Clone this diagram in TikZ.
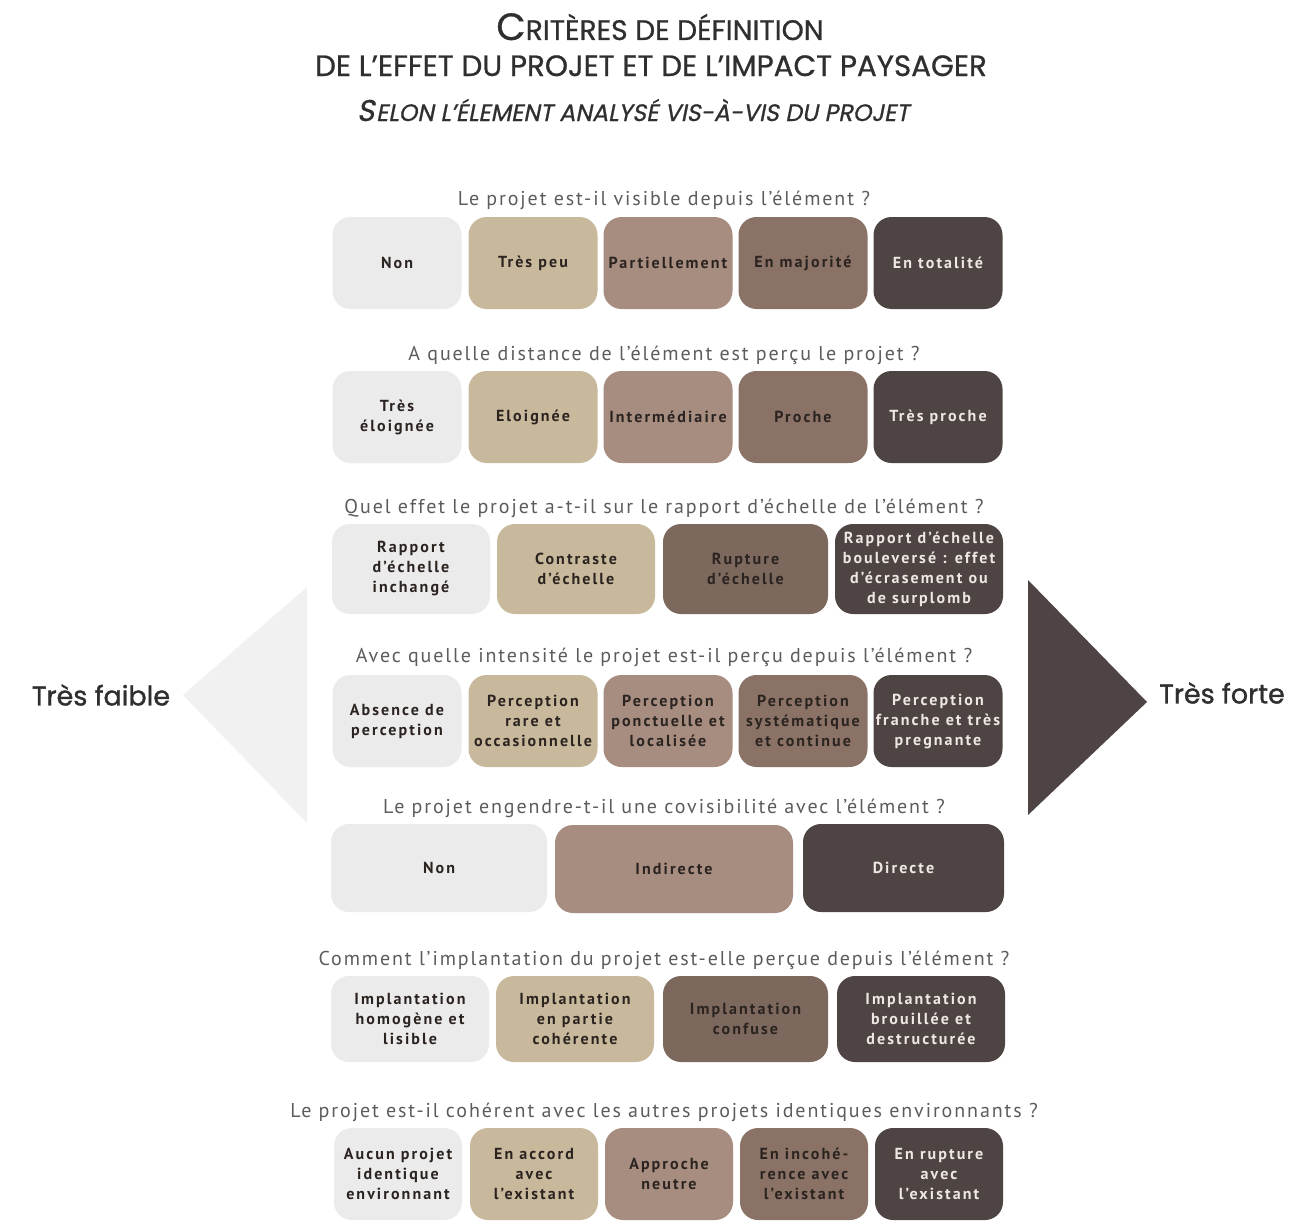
\documentclass[tikz,border=0pt]{standalone}
\usepackage{fontspec}
\setmainfont{PT Sans}
\newfontfamily\titlefont[FakeBold=0.8]{Poppins}
\newfontfamily\titleslant[FakeSlant=0.2,FakeBold=0.8]{Poppins}
\newfontfamily\sidefont[FakeBold=1.2]{Poppins}
\newfontfamily\askfont[LetterSpace=9.5]{PT Sans}
\newfontfamily\boxfont[LetterSpace=13]{PT Sans}
\usetikzlibrary{positioning}
\definecolor{tonA}{HTML}{EBEBEB}
\definecolor{tonB}{HTML}{C9B99C}
\definecolor{tonC}{HTML}{A68D80}
\definecolor{tonD}{HTML}{8A7366}
\definecolor{tonDd}{HTML}{7C685D}
\definecolor{tonE}{HTML}{4E4443}
\definecolor{ink}{HTML}{2B2320}
\definecolor{inkLight}{HTML}{EEE8E4}
\definecolor{askGray}{HTML}{5C5C5C}
\definecolor{titleInk}{HTML}{2F2F2F}
\definecolor{faibleTon}{HTML}{F1F1F1}
\tikzset{
    crit/.style={rounded corners=9pt, minimum height=46pt, inner sep=1pt, align=center,
        font=\boxfont\bfseries\fontsize{8}{10}\selectfont, text=ink},
    critDark/.style={crit, text=inkLight},
    cinq/.style={minimum width=64.5pt},
    ask/.style={font=\askfont\fontsize{10}{12}\selectfont, text=askGray},
    side/.style={font=\sidefont\fontsize{13.5}{16}\selectfont, text=titleInk}
}

\begin{document}
\begin{tikzpicture}[x=0.5pt,y=-0.5pt]
	\fill[white] (0,0) rectangle (1316,1220);
	\useasboundingbox (0,0) rectangle (1316,1220);
	% titre
	\node[anchor=base, text=titleInk] (titre1) at (660,40) {\titlefont{\fontsize{19}{20}\selectfont C}{\fontsize{14.1}{16}\selectfont RITÈRES DE DÉFINITION}};
	\node[anchor=base, text=titleInk] (titre2) at (651,76) {\titlefont\fontsize{14.7}{16}\selectfont DE L’EFFET DU PROJET ET DE L’IMPACT PAYSAGER};
	\node[anchor=base, text=titleInk] (titre3) at (633,121) {\titleslant{\fontsize{15}{16}\selectfont S}\kern0.8pt{\fontsize{11.9}{13}\selectfont ELON L’ÉLEMENT ANALYSÉ VIS-À-VIS DU PROJET}};
	% fleches
	\fill[faibleTon] (307,587) -- (183,695) -- (307,823) -- cycle;
	\fill[tonE] (1028,580) -- (1147,702) -- (1028,815) -- cycle;
	\node[side] (faible) at (101,695) {Très faible};
	\node[side] (forte) at (1222,693) {Très forte};
	% visible
	\node[ask] (q1) at (664,200) {Le projet est-il visible depuis l’élément ?};
	\node[crit, cinq, fill=tonA] (r1a) at (397,263) {Non};
	\node[crit, cinq, fill=tonB] (r1b) at (533,263) {Très peu};
	\node[crit, cinq, fill=tonC] (r1c) at (668,263) {Partiellement};
	\node[crit, cinq, fill=tonD] (r1d) at (803,263) {En majorité};
	\node[critDark, cinq, fill=tonE] (r1e) at (938,263) {En totalité};
	% distance
	\node[ask] (q2) at (664,355) {A quelle distance de l’élément est perçu le projet ?};
	\node[crit, cinq, fill=tonA] (r2a) at (397,417) {Très\\éloignée};
	\node[crit, cinq, fill=tonB] (r2b) at (533,417) {Eloignée};
	\node[crit, cinq, fill=tonC] (r2c) at (668,417) {Intermédiaire};
	\node[crit, cinq, fill=tonD] (r2d) at (803,417) {Proche};
	\node[critDark, cinq, fill=tonE] (r2e) at (938,417) {Très proche};
	% echelle
	\node[ask] (q3) at (664,508) {Quel effet le projet a-t-il sur le rapport d’échelle de l’élément ?};
	\node[crit, minimum width=79pt, minimum height=45pt, fill=tonA] (r3a) at (411,569) {Rapport\\d’échelle\\inchangé};
	\node[crit, minimum width=79pt, minimum height=45pt, fill=tonB] (r3b) at (576,569) {Contraste\\d’échelle};
	\node[crit, minimum width=82.5pt, minimum height=45pt, fill=tonDd] (r3c) at (745.5,569) {Rupture\\d’échelle};
	\node[critDark, minimum width=84pt, minimum height=45pt, fill=tonE] (r3d) at (919,569) {Rapport d’échelle\\bouleversé : effet\\d’écrasement ou\\de surplomb};
	% intensite
	\node[ask] (q4) at (664,657) {Avec quelle intensité le projet est-il perçu depuis l’élément ?};
	\node[crit, cinq, fill=tonA] (r4a) at (397,721) {Absence de\\perception};
	\node[crit, cinq, fill=tonB] (r4b) at (533,721) {Perception\\rare et\\occasionnelle};
	\node[crit, cinq, fill=tonC] (r4c) at (668,721) {Perception\\ponctuelle et\\localisée};
	\node[crit, cinq, fill=tonD] (r4d) at (803,721) {Perception\\systématique\\et continue};
	\node[critDark, cinq, fill=tonE] (r4e) at (938,721) {Perception\\franche et très\\pregnante};
	% covisibilite
	\node[ask] (q5) at (664,808) {Le projet engendre-t-il une covisibilité avec l’élément ?};
	\node[crit, minimum width=108pt, minimum height=44pt, fill=tonA] (r5a) at (439,868) {Non};
	\node[crit, minimum width=119pt, minimum height=44pt, fill=tonC] (r5b) at (674,869) {Indirecte};
	\node[critDark, minimum width=100.5pt, minimum height=44pt, fill=tonE] (r5c) at (903.5,868) {Directe};
	% implantation
	\node[ask] (q6) at (664,960) {Comment l’implantation du projet est-elle perçue depuis l’élément ?};
	\node[crit, minimum width=79pt, minimum height=43pt, fill=tonA] (r6a) at (410,1019) {Implantation\\homogène et\\lisible};
	\node[crit, minimum width=79pt, minimum height=43pt, fill=tonB] (r6b) at (575,1019) {Implantation\\en partie\\cohérente};
	\node[crit, minimum width=82.5pt, minimum height=43pt, fill=tonDd] (r6c) at (745.5,1019) {Implantation\\confuse};
	\node[critDark, minimum width=84pt, minimum height=43pt, fill=tonE] (r6d) at (921,1019) {Implantation\\brouillée et\\destructurée};
	% coherence
	\node[ask] (q7) at (664,1112) {Le projet est-il cohérent avec les autres projets identiques environnants ?};
	\node[crit, minimum width=64pt, fill=tonA] (r7a) at (398,1174) {Aucun projet\\identique\\environnant};
	\node[crit, minimum width=64pt, fill=tonB] (r7b) at (534,1174) {En accord\\avec\\l’existant};
	\node[crit, minimum width=64pt, fill=tonC] (r7c) at (669,1174) {Approche\\neutre};
	\node[crit, minimum width=64pt, fill=tonD] (r7d) at (804,1174) {En incohé-\\rence avec\\l’existant};
	\node[critDark, minimum width=64pt, fill=tonE] (r7e) at (939,1174) {En rupture\\avec\\l’existant};
\end{tikzpicture}
\end{document}
